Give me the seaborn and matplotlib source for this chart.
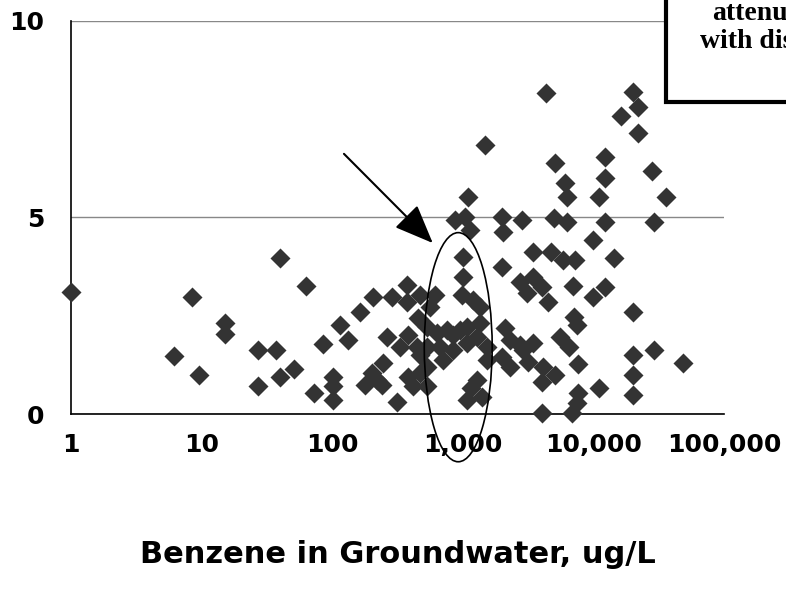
## Benzene in groundwater scatter (log x) with highlight ellipse

import seaborn as sns
import matplotlib.pyplot as plt
import matplotlib.patches as patches
import pandas as pd

# benzene concentration (ug/L) and the plotted value
benzene = [1.0, 8.5, 6.1, 9.6, 15, 15, 40, 63, 27, 37, 27, 40, 51, 85, 72,
           101, 101, 101,
           115, 133, 163, 206, 286, 372, 470, 372, 261, 330, 383, 443, 470,
           246, 200, 178, 239, 220, 312, 383, 418, 470, 456, 612, 561,
           529, 529, 529, 529, 632, 753, 846, 952, 1072, 1354, 1277, 1524,
           1072, 846, 669, 709, 1277, 1072, 1396, 1160, 1524, 981, 1205,
           1354, 1010, 1010, 872, 1040, 1135, 1100,
           1986, 2826, 2042, 1986, 2742, 3083, 3467, 4018, 2104, 2297,
           2742, 2906, 1986, 2297, 3175, 4140, 3467, 5080, 4018, 4520,
           3467, 4710, 5890, 7230, 9980, 14450, 6940, 9980, 12270, 20200,
           7100, 7450, 5550, 6550, 7590, 20200, 29250, 48300, 20200,
           20200, 11100, 7660, 7450, 6820, 4018,
           4315, 20200, 22080, 16170, 22080, 1480, 5080, 12270, 27930,
           6070, 12270, 6310, 11100, 35800, 4990, 6230, 12270, 29250]
value = [3.11, 2.97, 1.48, 0.99, 2.31, 2.04, 3.96, 3.26, 1.63, 1.63, 0.70, 0.95, 1.14, 1.77, 0.54,
         0.95, 0.70, 0.35,
         2.26, 1.88, 2.60, 2.98, 2.98, 3.28, 3.03, 2.86, 1.97, 1.71, 2.01, 1.71, 1.50,
         1.29, 1.04, 0.74, 0.74, 0.87, 0.31, 0.95, 0.70, 1.04, 2.44, 3.03, 2.73,
         2.22, 1.71, 1.20, 0.70, 2.05, 2.14, 2.01, 2.14, 2.22, 2.31, 1.97, 1.71,
         1.80, 1.63, 1.71, 1.37, 0.87, 0.36, 0.44, 0.66, 1.37, 3.03, 2.90,
         2.73, 4.00, 3.49, 4.94, 5.02, 4.68, 5.53,
         5.02, 4.94, 4.64, 3.75, 3.37, 3.07, 3.49, 3.24, 2.18, 1.88,
         1.76, 1.63, 1.46, 1.20, 1.33, 1.20, 1.80, 0.99, 0.82, 2.86,
         4.13, 4.13, 3.92, 3.92, 4.43, 3.96, 3.26, 2.98, 3.24, 2.60,
         2.48, 2.26, 1.97, 1.71, 1.27, 1.50, 1.63, 1.29, 0.99,
         0.48, 0.65, 0.53, 0.27, 0.02, 0.02,
         8.16, 8.20, 7.82, 7.57, 7.16, 6.84, 6.38, 6.55, 6.19,
         5.87, 6.00, 5.53, 5.53, 5.53, 4.98, 4.89, 4.89, 4.89]

x_ticks = [1, 10, 100, 1000, 10000, 100000]
x_tick_labels = ['1', '10', '100', '1,000', '10,000', '100,000']
y_ticks = [0, 5, 10]

df = pd.DataFrame({'benzene': benzene, 'value': value})

sns.set_style('white')
plt.rcParams['font.family'] = ['DejaVu Sans']
plt.rcParams['text.color'] = 'black'
plt.rcParams['xtick.labelcolor'] = 'black'
plt.rcParams['ytick.labelcolor'] = 'black'
plt.rcParams['axes.labelcolor'] = 'black'

fig = plt.figure(figsize=(7.86, 5.92), dpi=100)
ax = fig.add_axes([71/786, 1 - 414/592, 653/786, 393/592])

sns.scatterplot(data=df, x='benzene', y='value', marker='D', color='#333333',
                s=104, linewidth=0, ax=ax, zorder=3, clip_on=False)

ax.set_xscale('log')
ax.set_xlim(1, 100000)
ax.set_ylim(0, 10)
ax.set_xticks(x_ticks)
ax.set_xticklabels(x_tick_labels)
ax.minorticks_off()
ax.set_yticks(y_ticks)
ax.set_yticklabels([str(t) for t in y_ticks])

for lbl in ax.get_xticklabels() + ax.get_yticklabels():
    lbl.set_fontweight('bold')
    lbl.set_fontsize(18)

ax.tick_params(axis='both', direction='out', length=7, width=1, color='black')
ax.tick_params(axis='x', pad=7)
ax.tick_params(axis='y', pad=12)

ax.yaxis.grid(True, color='#888888', lw=1)
ax.set_axisbelow(True)
for side in ['top', 'right']:
    ax.spines[side].set_visible(False)
for side in ['left', 'bottom']:
    ax.spines[side].set_color('black')
    ax.spines[side].set_linewidth(1.2)

ax.set_ylabel('')
ax.set_xlabel('Benzene in Groundwater, ug/L', fontsize=22, fontweight='bold')
ax.xaxis.set_label_coords(0.500, -0.357)
ax.xaxis.label.set_va('center')

# ellipse round the ~1,000 ug/L group and the arrow pointing at it
ell = patches.Ellipse((0.593, 0.170), 0.104, 0.583, transform=ax.transAxes,
                      fill=False, ec='black', lw=1.2, clip_on=False, zorder=4)
ax.add_patch(ell)
ax.annotate('', xy=(0.557, 0.430), xytext=(0.415, 0.667), xycoords='axes fraction',
            arrowprops=dict(arrowstyle='-|>,head_length=1.1,head_width=0.45',
                            color='black', lw=1.5, mutation_scale=22))

# text box cut off at the top right
box = patches.Rectangle((666/786, 1 - 102/592), 0.4, 0.4, transform=fig.transFigure,
                        fc='white', ec='black', lw=3, zorder=10)
fig.add_artist(box)
fig.text(712/786, 1 - 13/592, 'attenuation', ha='left', va='center', zorder=11,
         family='Liberation Serif', fontweight='bold', fontsize=20)
fig.text(700/786, 1 - 42/592, 'with distance', ha='left', va='center', zorder=11,
         family='Liberation Serif', fontweight='bold', fontsize=20)

fig.savefig('out.png', dpi=100)
